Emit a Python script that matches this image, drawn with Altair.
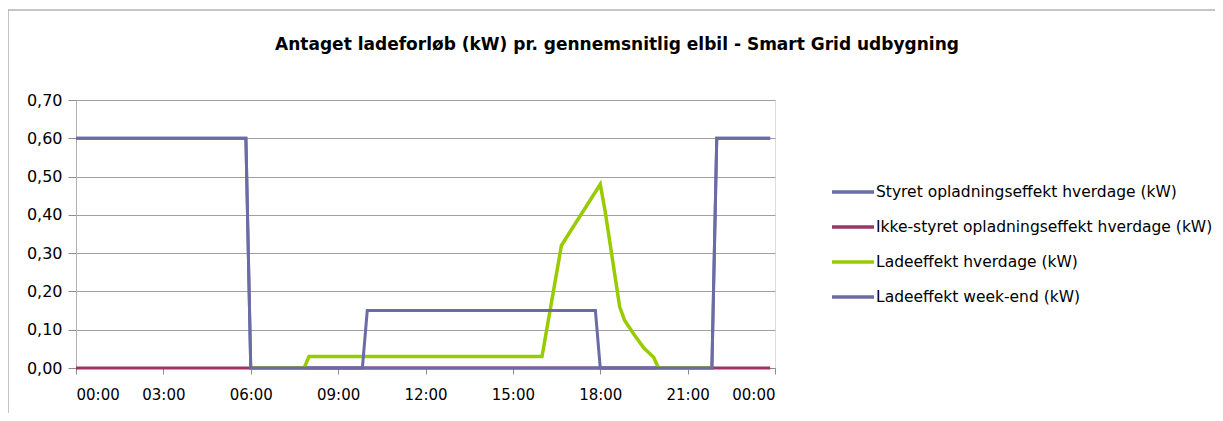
import altair as alt
import pandas as pd

series_names = [
    "Styret opladningseffekt hverdage (kW)",
    "Ikke-styret opladningseffekt hverdage (kW)",
    "Ladeeffekt hverdage (kW)",
    "Ladeeffekt week-end (kW)",
]
series_colors = ["#6B6BA6", "#9E3366", "#99CC00", "#6B6BA6"]

styret_times = ["00:00", "05:50", "06:00", "21:50", "22:00", "23:50"]
styret_values = [0.60, 0.60, 0.00, 0.00, 0.60, 0.60]

ikke_times = ["00:00", "23:50"]
ikke_values = [0.00, 0.00]

hverdag_times = ["06:00", "07:50", "08:00", "16:00", "16:40", "17:10", "17:30",
                 "18:00", "18:10", "18:40", "18:50", "19:10", "19:30", "19:50",
                 "20:00", "21:50"]
hverdag_values = [0.00, 0.00, 0.03, 0.03, 0.32, 0.38, 0.42,
                  0.48, 0.41, 0.16, 0.125, 0.087, 0.052, 0.028,
                  0.00, 0.00]

weekend_times = ["00:00", "05:50", "06:00", "09:50", "10:00", "17:50", "18:00",
                 "21:50", "22:00", "23:50"]
weekend_values = [0.60, 0.60, 0.00, 0.00, 0.15, 0.15, 0.00,
                  0.00, 0.60, 0.60]

x_ticks = [0, 3, 6, 9, 12, 15, 18, 21, 24]
y_ticks = [0.0, 0.1, 0.2, 0.3, 0.4, 0.5, 0.6, 0.7]

title_text = "Antaget ladeforløb (kW) pr. gennemsnitlig elbil - Smart Grid udbygning"


def to_hours(t):
    h, m = t.split(":")
    return int(h) + int(m) / 60.0


def frame(name, times, values):
    return pd.DataFrame({
        "serie": name,
        "timer": [to_hours(t) for t in times],
        "kW": values,
    })


FONT = "DejaVu Sans"

color_scale = alt.Scale(domain=series_names, range=series_colors)

x_enc = alt.X(
    "timer:Q",
    scale=alt.Scale(domain=[0, 24], nice=False, zero=False),
    axis=alt.Axis(
        values=x_ticks,
        labelExpr="datum.value == 24 ? '00:00' : (datum.value < 10 ? '0' : '') + datum.value + ':00'",
        title=None,
        grid=False,
        domainColor="#8C8C8C",
        tickColor="#8C8C8C",
        tickSize=6,
        labelPadding=13,
        labelFont=FONT,
        labelFontSize=15,
        labelColor="#000000",
    ),
)
y_enc = alt.Y(
    "kW:Q",
    scale=alt.Scale(domain=[0, 0.7], nice=False),
    axis=alt.Axis(
        values=y_ticks,
        labelExpr="replace(format(datum.value, '.2f'), '.', ',')",
        title=None,
        grid=True,
        gridColor="#A0A0A0",
        domainColor="#B0B0B0",
        tickColor="#8C8C8C",
        tickSize=8,
        labelPadding=6,
        labelFont=FONT,
        labelFontSize=16,
        labelColor="#000000",
    ),
)


def line_layer(df, width=3):
    return alt.Chart(df).mark_line(strokeWidth=width, strokeJoin="miter").encode(
        x=x_enc,
        y=y_enc,
        color=alt.Color(
            "serie:N",
            scale=color_scale,
            sort=series_names,
            legend=alt.Legend(
                title=None,
                orient="none",
                legendX=754,
                legendY=69,
                symbolType="stroke",
                symbolSize=1764,
                symbolStrokeWidth=3.5,
                labelFont=FONT,
                labelFontSize=15.5,
                labelColor="#000000",
                labelOffset=0,
                rowPadding=3,
                labelLimit=500,
            ),
        ),
        order=alt.Order("timer:Q"),
    )


df_styret = frame(series_names[0], styret_times, styret_values)
df_ikke = frame(series_names[1], ikke_times, ikke_values)
df_hverdag = frame(series_names[2], hverdag_times, hverdag_values)
df_weekend = frame(series_names[3], weekend_times, weekend_values)

one = pd.DataFrame({"a": [0]})
border_top = alt.Chart(one).mark_rule(color="#8C8C8C", strokeWidth=1).encode(
    x=alt.value(-68), x2=alt.value(1200), y=alt.value(-90)
)
border_left = alt.Chart(one).mark_rule(color="#8C8C8C", strokeWidth=1).encode(
    x=alt.value(-68), y=alt.value(-90), y2=alt.value(400)
)
title_mark = alt.Chart(pd.DataFrame({"t": [title_text]})).mark_text(
    font=FONT, fontSize=17, fontWeight="bold", color="#000000",
    align="center", baseline="middle",
).encode(x=alt.value(541), y=alt.value(-55), text="t:N")

chart = alt.layer(
    border_top,
    border_left,
    title_mark,
    line_layer(df_ikke),
    line_layer(df_styret),
    line_layer(df_hverdag, 3.5),
    line_layer(df_weekend),
).properties(
    width=699,
    height=268,
    autosize=alt.AutoSizeParams(type="none"),
    padding={"left": 68, "top": 92, "right": 440, "bottom": 45},
).configure_view(stroke=None).configure(background="#ffffff")

chart.save("out.html", embed_options={"renderer": "svg", "actions": False})
